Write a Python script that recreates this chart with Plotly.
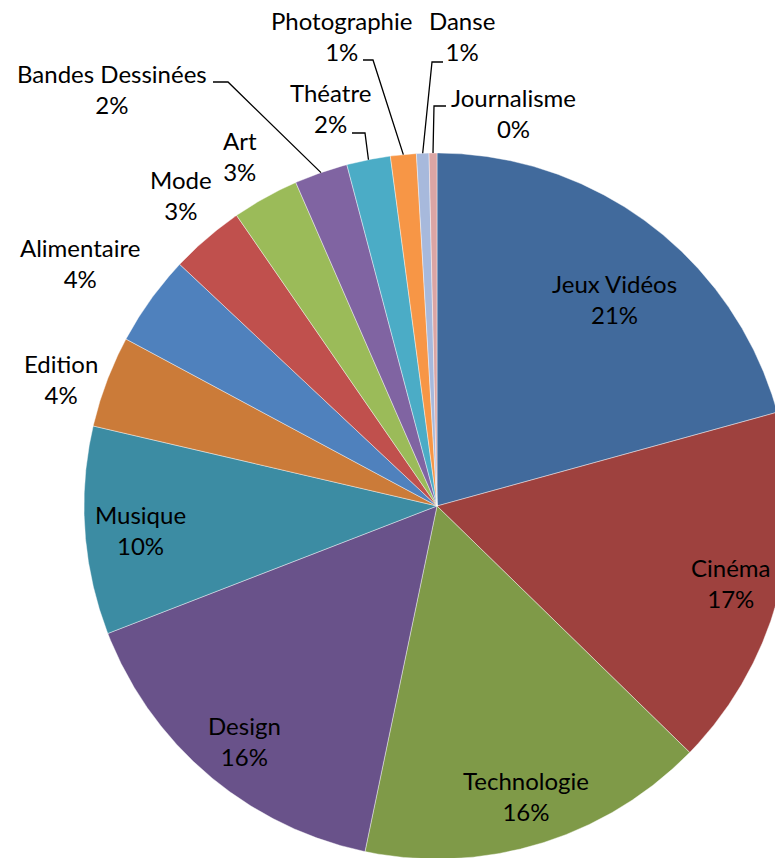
import numpy as np
import plotly.graph_objects as go

# Share of projects by category (percent)
categories = ["Jeux Vidéos", "Cinéma", "Technologie", "Design", "Musique", "Edition",
              "Alimentaire", "Mode", "Art", "Bandes Dessinées", "Théatre",
              "Photographie", "Danse", "Journalisme"]
shares = [20.72, 16.58, 15.97, 15.85, 9.52, 4.20, 4.16, 3.39, 3.06, 2.44, 2.00, 1.18, 0.57, 0.36]
colors = ["#416A9C", "#9E413E", "#7F9A48", "#69528A", "#3C8CA3", "#CB7B39", "#4F81BD",
          "#C0504D", "#9BBB59", "#8064A2", "#4BACC6", "#F79646", "#A7B9DC", "#DBA5A4"]

# Layout of the drawing (pixel units on the axes)
W, H = 775, 858
CX, CY, R = 437, 506, 353
FONT = dict(family="Lato, 'Open Sans', sans-serif", size=24, color="black")

# Label block centres, and the elbow points of leader lines for outside labels
label_pos = {
    "Jeux Vidéos": (614, 299), "Cinéma": (731, 583), "Technologie": (526, 796),
    "Design": (244, 741), "Musique": (140, 530), "Edition": (61, 379),
    "Alimentaire": (80, 263), "Mode": (181, 195), "Art": (240, 156),
    "Bandes Dessinées": (112, 89), "Théatre": (330, 108), "Photographie": (341, 36),
    "Danse": (462, 36), "Journalisme": (513, 113),
}
leader_elbows = {
    "Bandes Dessinées": [(213, 82), (228, 82)],
    "Théatre": [(352, 133), (365, 133)],
    "Photographie": [(363, 60), (373, 60)],
    "Danse": [(443, 62), (432, 62)],
    "Journalisme": [(446, 106), (434, 106)],
}


def point(theta, r=R):
    # theta: radians clockwise from 12 o'clock; screen y grows downward
    return CX + r * np.sin(theta), CY - r * np.cos(theta)


fig = go.Figure()
total = sum(shares)
start = 0.0
mid_angles = {}
for name, val, col in zip(categories, shares, colors):
    a0 = start / total * 2 * np.pi
    a1 = (start + val) / total * 2 * np.pi
    n = max(4, int(np.degrees(a1 - a0) * 4))
    th = np.linspace(a0, a1, n)
    xs, ys = point(th)
    fig.add_trace(go.Scatter(
        x=np.concatenate([[CX], xs, [CX]]), y=np.concatenate([[CY], ys, [CY]]),
        mode="lines", fill="toself", fillcolor=col,
        line=dict(color="rgba(255,255,255,0.7)", width=0.6),
        hoverinfo="skip", showlegend=False,
    ))
    mid_angles[name] = (a0 + a1) / 2
    start += val

# Leader lines from the outside labels to the slice rims
for name, elbow in leader_elbows.items():
    ex, ey = point(mid_angles[name])
    xs = [p[0] for p in elbow] + [ex]
    ys = [p[1] for p in elbow] + [ey]
    fig.add_trace(go.Scatter(x=xs, y=ys, mode="lines",
                             line=dict(color="black", width=1.3),
                             hoverinfo="skip", showlegend=False))

for name, val in zip(categories, shares):
    lx, ly = label_pos[name]
    fig.add_annotation(x=lx, y=ly, xref="x", yref="y",
                       text=f"{name}<br>{round(val / total * 100)}%",
                       showarrow=False, font=FONT, xanchor="center", yanchor="middle",
                       align="center")

fig.update_layout(
    width=W, height=H, margin=dict(l=0, r=0, t=0, b=0),
    paper_bgcolor="white", plot_bgcolor="white",
    xaxis=dict(range=[0, W], visible=False, fixedrange=True),
    yaxis=dict(range=[H, 0], visible=False, fixedrange=True),
)

fig.write_html("out.html")
